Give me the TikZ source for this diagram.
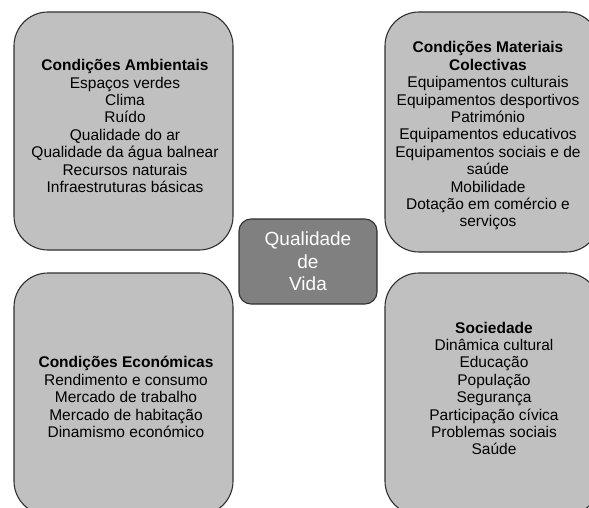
\documentclass[tikz,border=0pt]{standalone}
\usepackage{fontspec}
\setmainfont{Liberation Sans}
\usetikzlibrary{positioning}

\definecolor{boxgray}{HTML}{C0C0C0}
\definecolor{centergray}{HTML}{808080}
\definecolor{edgegray}{HTML}{303030}

\begin{document}
\begin{tikzpicture}[x=1pt, y=-1pt,
	bigbox/.style={draw=edgegray, line width=1.1pt, fill=boxgray, rounded corners=34pt, inner sep=0pt},
	boxtext/.style={align=center, inner sep=0pt, text=black, font=\fontsize{15.5}{17.4}\selectfont},
	mainbox/.style={draw=edgegray, line width=1.1pt, fill=centergray, rounded corners=12pt, inner sep=0pt,
		minimum width=138pt, minimum height=85pt, align=center, text=white, font=\fontsize{19}{22.5}\selectfont}]
	\path[use as bounding box, clip] (0,0) rectangle (589,508);

	% the four boxes round the centre
	\node[bigbox, minimum width=219pt, minimum height=238pt] (amb) at (123.5,131) {};
	\node[bigbox, minimum width=215pt, minimum height=240pt] (mat) at (492.5,132) {};
	\node[bigbox, minimum width=219pt, minimum height=242pt] (eco) at (123.5,394) {};
	\node[bigbox, minimum width=215pt, minimum height=242pt] (soc) at (492.5,394) {};

	\node[mainbox] (qv) at (308,261.5) {Qualidade\\de\\Vida};

	\node[boxtext] (amb-txt) at (125,126) {\textbf{Condições Ambientais}\\Espaços verdes\\Clima\\Ruído\\
		Qualidade do ar\\Qualidade da água balnear\\Recursos naturais\\Infraestruturas básicas};
	\node[boxtext] (mat-txt) at (488,136) {\textbf{Condições Materiais}\\\textbf{Colectivas}\\
		Equipamentos culturais\\Equipamentos desportivos\\Património\\Equipamentos educativos\\
		Equipamentos sociais e de\\saúde\\Mobilidade\\Dotação em comércio e\\serviços};
	\node[boxtext] (eco-txt) at (126,397) {\textbf{Condições Económicas}\\Rendimento e consumo\\
		Mercado de trabalho\\Mercado de habitação\\Dinamismo económico};
	\node[boxtext] (soc-txt) at (494,388.5) {\textbf{Sociedade}\\Dinâmica cultural\\Educação\\População\\
		Segurança\\Participação cívica\\Problemas sociais\\Saúde};
\end{tikzpicture}
\end{document}
